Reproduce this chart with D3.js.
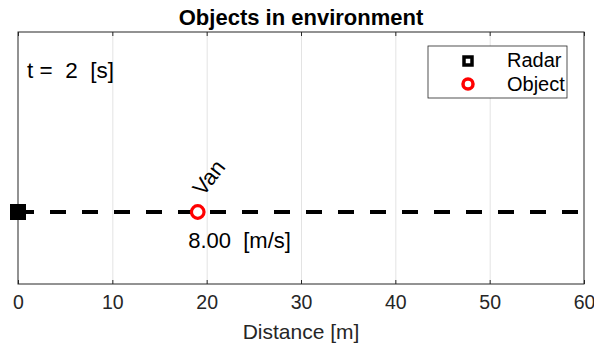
<!DOCTYPE html>
<meta charset="utf-8">
<head>
    <style>
        body { margin: 0; background: white; font-family: "Liberation Sans", Arial, sans-serif; }
        .grid line { stroke: #e3e3e3; stroke-width: 1; }
        .grid path { stroke-width: 0; }
    </style>
</head>
<body>
    <script src="https://d3js.org/d3.v7.min.js"></script>
    <div id="chart"></div>
    <script>
        // data
        var titleText = "Objects in environment";
        var xLabel = "Distance [m]";
        var xTicks = [0, 10, 20, 30, 40, 50, 60];
        var timeNow = [2];
        var radarPos = [0];
        var objectNames = ["Van"];
        var objectDist = [19];
        var objectSpeed = [8.00];
        var legendItems = ["Radar", "Object"];

        var W = 594, H = 347;
        var margin = { top: 32, right: 10, bottom: 63, left: 18 },
            width = W - margin.left - margin.right,
            height = H - margin.top - margin.bottom;

        var svg = d3.select("#chart").append("svg")
            .attr("width", W)
            .attr("height", H);

        var g = svg.append("g")
            .attr("transform", "translate(" + margin.left + "," + margin.top + ")");

        var x = d3.scaleLinear().domain([0, 60]).range([0, width]);
        var y = d3.scaleLinear().domain([-1, 2.5]).range([height, 0]);

        // grid
        g.append("g")
            .attr("class", "grid")
            .attr("transform", "translate(0," + height + ")")
            .call(d3.axisBottom(x).tickValues(xTicks.slice(1, -1)).tickSize(-height).tickFormat(""));

        // dashed track line
        g.append("line")
            .attr("x1", x(0)).attr("x2", x(60))
            .attr("y1", y(0)).attr("y2", y(0))
            .attr("stroke", "black")
            .attr("stroke-width", 4)
            .attr("stroke-dasharray", "16,16");

        // box
        g.append("rect")
            .attr("width", width).attr("height", height)
            .attr("fill", "none")
            .attr("stroke", "#262626")
            .attr("stroke-width", 1);

        // axis ticks + labels
        var xAxis = g.append("g")
            .attr("transform", "translate(0," + height + ")")
            .call(d3.axisBottom(x).tickValues(xTicks).tickSizeInner(-4).tickSizeOuter(0).tickPadding(11));
        xAxis.select(".domain").remove();
        xAxis.selectAll("line").attr("stroke", "#262626");
        xAxis.selectAll("text")
            .attr("fill", "#262626")
            .style("font-family", "Liberation Sans, Arial, sans-serif")
            .style("font-size", "19.5px");

        var xTop = g.append("g")
            .call(d3.axisTop(x).tickValues(xTicks).tickSizeInner(-4).tickSizeOuter(0).tickFormat(""));
        xTop.select(".domain").remove();
        xTop.selectAll("line").attr("stroke", "#262626");

        // radar
        g.selectAll(".radar")
            .data(radarPos)
            .enter().append("rect")
            .attr("class", "radar")
            .attr("x", function (d) { return x(d) - 8; })
            .attr("y", y(0) - 8)
            .attr("width", 16).attr("height", 16)
            .attr("fill", "black");

        // objects
        g.selectAll(".obj")
            .data(objectDist)
            .enter().append("circle")
            .attr("class", "obj")
            .attr("cx", function (d) { return x(d) + 0.5; })
            .attr("cy", y(0))
            .attr("r", 6.3)
            .attr("fill", "white")
            .attr("stroke", "red")
            .attr("stroke-width", 3.2);

        g.selectAll(".objname")
            .data(objectNames)
            .enter().append("text")
            .attr("class", "objname")
            .attr("transform", function (d, i) {
                return "translate(" + (x(objectDist[i]) + 6) + "," + (y(0) - 15) + ") rotate(-52)";
            })
            .style("font-size", "22px")
            .text(function (d) { return d; });

        g.selectAll(".objspeed")
            .data(objectSpeed)
            .enter().append("text")
            .attr("class", "objspeed")
            .attr("x", function (d, i) { return x(objectDist[i]) - 9; })
            .attr("y", y(0) + 36)
            .style("font-size", "22px")
            .style("white-space", "pre")
            .text(function (d) { return d.toFixed(2) + "  [m/s]"; });

        // time text
        g.append("text")
            .attr("x", 9)
            .attr("y", 46)
            .style("font-size", "22.5px")
            .style("white-space", "pre")
            .text("t =  " + timeNow[0] + "  [s]");

        // legend
        var lg = g.append("g").attr("transform", "translate(" + (428 - margin.left) + "," + (46 - margin.top) + ")");
        lg.append("rect")
            .attr("width", 139).attr("height", 52)
            .attr("fill", "white")
            .attr("stroke", "#262626")
            .attr("stroke-width", 0.8);
        lg.append("rect")
            .attr("x", 36).attr("y", 11).attr("width", 8).attr("height", 8)
            .attr("fill", "none").attr("stroke", "black").attr("stroke-width", 3.5);
        lg.append("circle")
            .attr("cx", 40).attr("cy", 38).attr("r", 5)
            .attr("fill", "none").attr("stroke", "red").attr("stroke-width", 3.5);
        lg.selectAll(".lgtext")
            .data(legendItems)
            .enter().append("text")
            .attr("x", 79)
            .attr("y", function (d, i) { return 21 + i * 24; })
            .style("font-size", "20px")
            .text(function (d) { return d; });

        // title and label
        svg.append("text")
            .attr("x", margin.left + width / 2)
            .attr("y", 25)
            .attr("text-anchor", "middle")
            .style("font-size", "22px")
            .style("font-weight", "bold")
            .text(titleText);

        svg.append("text")
            .attr("x", margin.left + width / 2)
            .attr("y", 339)
            .attr("text-anchor", "middle")
            .attr("fill", "#262626")
            .style("font-size", "21px")
            .text(xLabel);
    </script>
</body>
